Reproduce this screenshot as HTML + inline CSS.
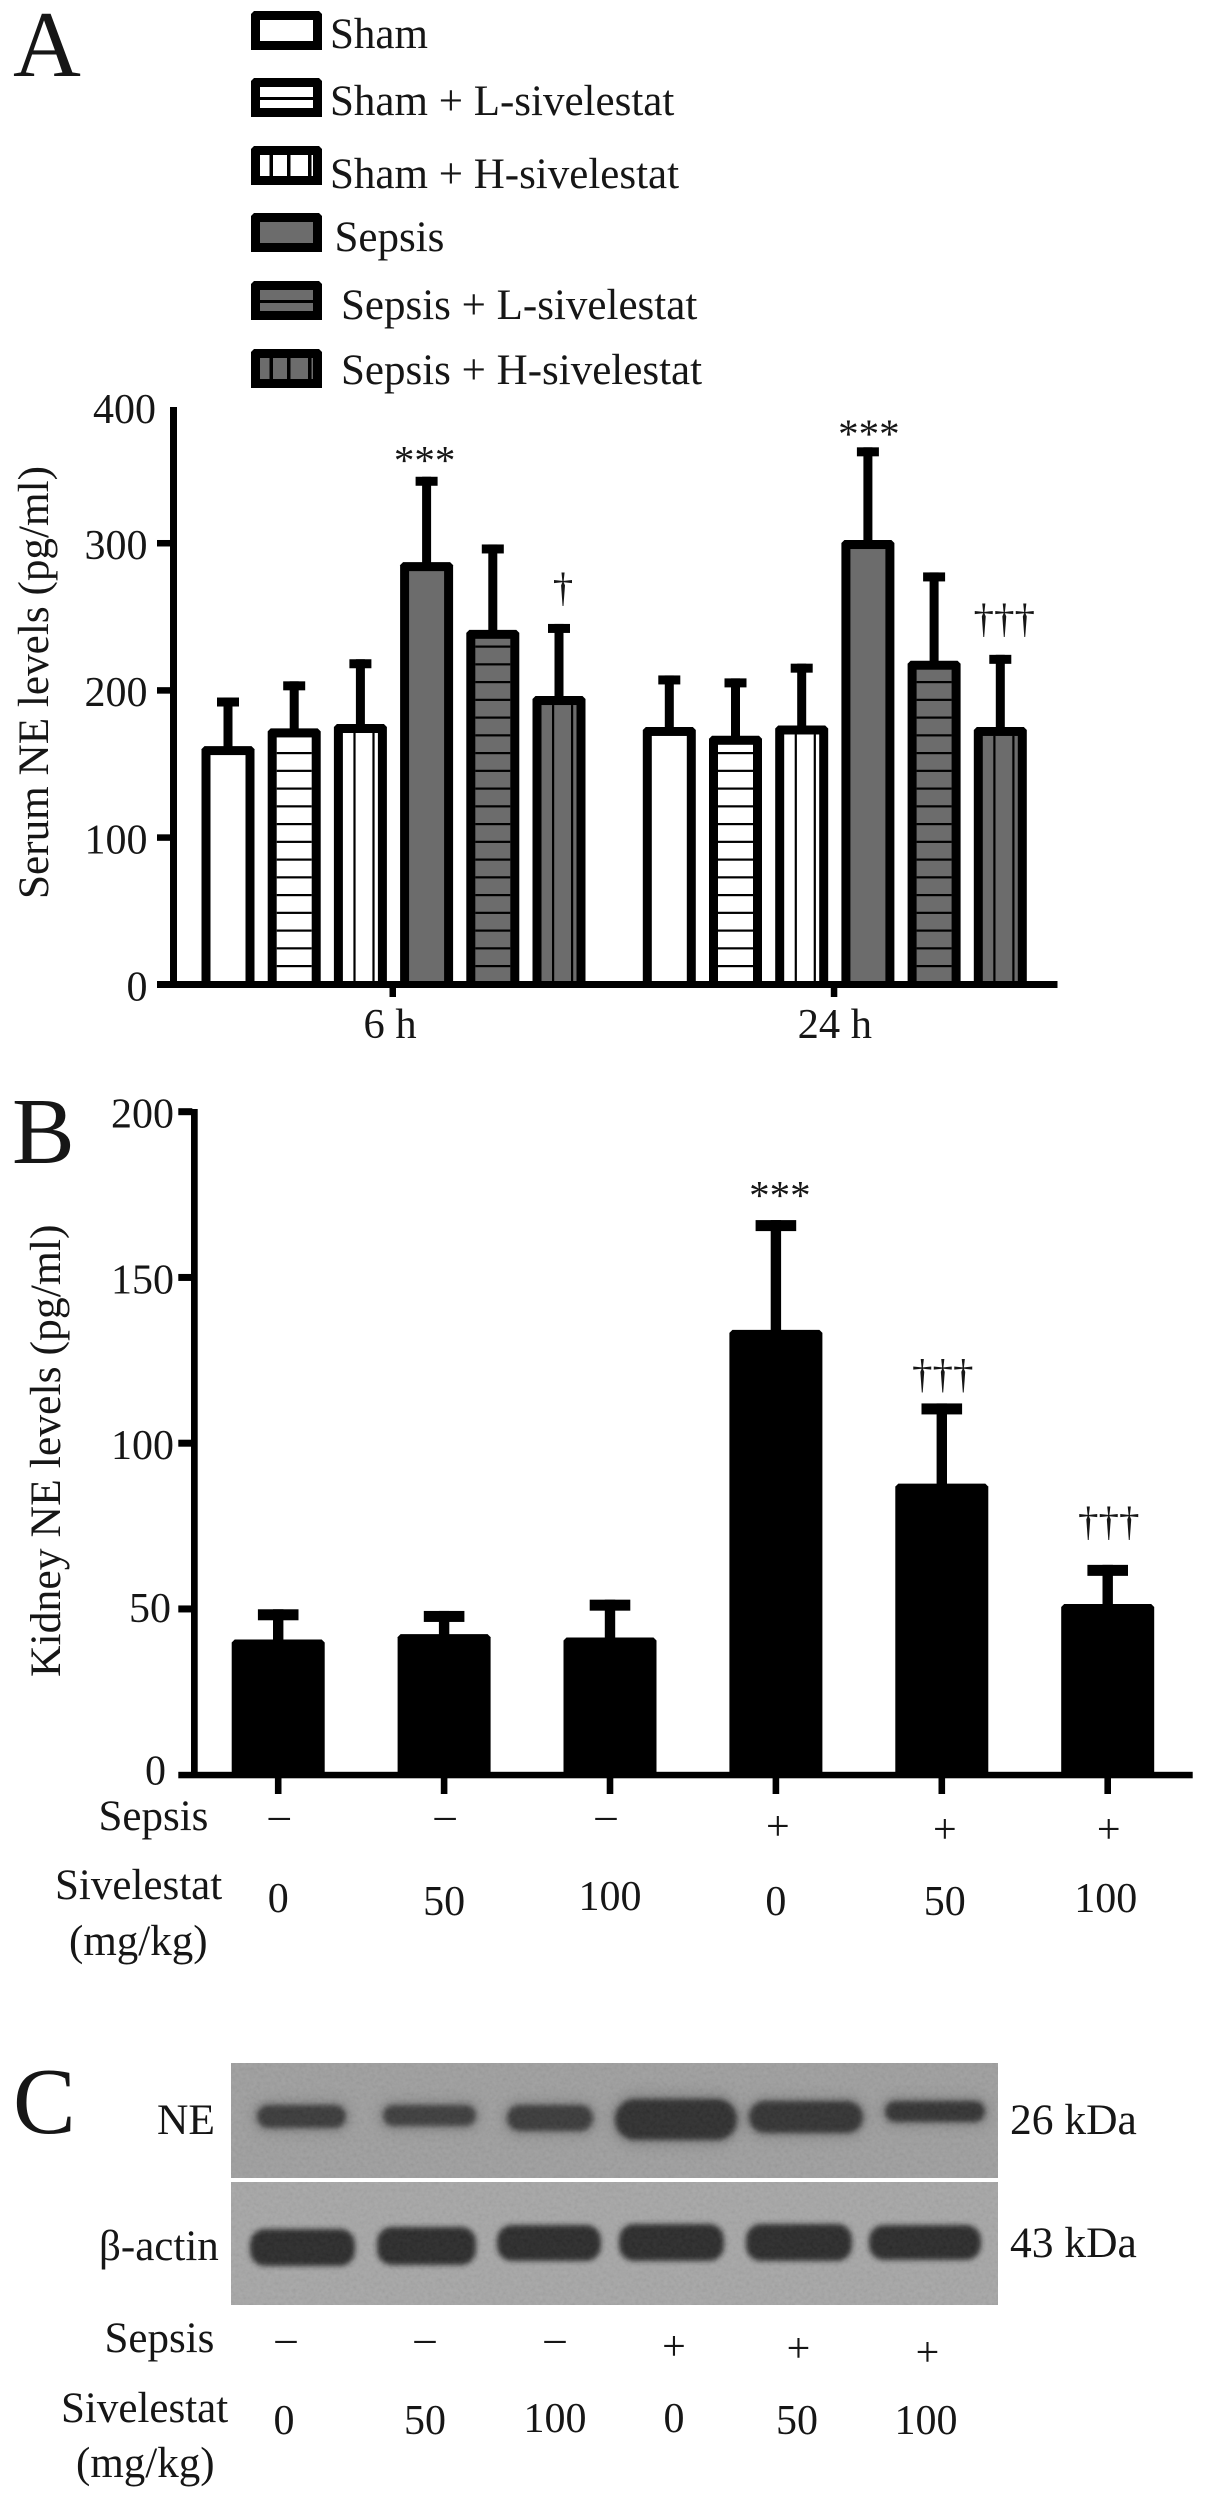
<!DOCTYPE html>
<html lang="en">
<head>
<meta charset="utf-8">
<title>Serum and kidney NE levels</title>
<style>
html,body{margin:0;padding:0;background:#fff;}
svg{display:block;}
text{font-family:"Liberation Serif",serif;fill:#161616;}
</style>
</head>
<body>
<svg id="figure" xmlns="http://www.w3.org/2000/svg" width="1205" height="2499" viewBox="0 0 1205 2499">
  <defs>
    <filter id="blur-core" x="-30%" y="-60%" width="160%" height="220%"><feGaussianBlur stdDeviation="2.6"/></filter>
    <filter id="blur-halo" x="-30%" y="-80%" width="160%" height="260%"><feGaussianBlur stdDeviation="6"/></filter>
    <filter id="grain" x="0" y="0" width="100%" height="100%">
      <feTurbulence type="fractalNoise" baseFrequency="0.28" numOctaves="2" seed="7"/>
      <feColorMatrix type="matrix" values="0.9 0 0 0 0.05  0.9 0 0 0 0.05  0.9 0 0 0 0.05  0 0 0 0 0.10"/>
    </filter>
    <clipPath id="clip-ne"><rect x="231" y="2063" width="767" height="115"/></clipPath>
    <clipPath id="clip-actin"><rect x="231" y="2182" width="767" height="123"/></clipPath>
  </defs>

  <rect width="1205" height="2499" fill="#fff"/>

  <!-- Panel letters -->
  <text x="13" y="76" font-size="94">A</text>
  <text x="12" y="1163" font-size="94">B</text>
  <text x="13" y="2133" font-size="94">C</text>

  <!-- Legend -->
  <g id="legend" font-size="43"></g>

  <!-- Panel A -->
  <g id="serum-chart"></g>
  <text transform="translate(48 899) rotate(-90)" font-size="43.2">Serum NE levels (pg/ml)</text>

  <!-- Panel B -->
  <g id="kidney-chart"></g>
  <text transform="translate(60 1677) rotate(-90)" font-size="43.7">Kidney NE levels (pg/ml)</text>
  <text x="98.5" y="1830" font-size="43">Sepsis</text>
  <text x="55" y="1899" font-size="43">Sivelestat</text>
  <text x="69" y="1955" font-size="43">(mg/kg)</text>

  <!-- Panel C: western blot -->
  <g>
    <g clip-path="url(#clip-ne)">
      <rect x="231" y="2063" width="767" height="115" fill="#9c9c9c"/>
      <g filter="url(#blur-halo)" fill="#6a6a6a" opacity=".5">
        <rect x="252" y="2100" width="99" height="33" rx="16"/>
        <rect x="378" y="2100" width="103" height="31" rx="15"/>
        <rect x="502" y="2100" width="96" height="36" rx="18"/>
        <rect x="610" y="2092" width="132" height="54" rx="27"/>
        <rect x="744" y="2096" width="124" height="42" rx="21"/>
        <rect x="880" y="2096" width="110" height="31" rx="15"/>
      </g>
      <g filter="url(#blur-core)">
        <rect x="257" y="2105" width="89" height="23" rx="11.5" fill="#333"/>
        <rect x="383" y="2105" width="93" height="21" rx="10.5" fill="#363636"/>
        <rect x="507" y="2105" width="86" height="26" rx="13" fill="#303030"/>
        <rect x="615" y="2099" width="122" height="41" rx="20" fill="#252525"/>
        <rect x="749" y="2101" width="114" height="32" rx="16" fill="#292929"/>
        <rect x="885" y="2101" width="100" height="21" rx="10.5" fill="#2a2a2a"/>
      </g>
      <rect x="231" y="2063" width="767" height="115" filter="url(#grain)"/>
    </g>
    <g clip-path="url(#clip-actin)">
      <rect x="231" y="2182" width="767" height="123" fill="#a4a4a4"/>
      <g filter="url(#blur-core)" fill="#242424">
        <rect x="250" y="2229" width="105" height="37" rx="15"/>
        <rect x="377" y="2227" width="99" height="38" rx="15"/>
        <rect x="497" y="2225" width="104" height="36" rx="15"/>
        <rect x="619" y="2224" width="105" height="37" rx="15"/>
        <rect x="746" y="2224" width="106" height="37" rx="15"/>
        <rect x="869" y="2225" width="112" height="35" rx="15"/>
      </g>
      <rect x="231" y="2182" width="767" height="123" filter="url(#grain)"/>
    </g>
  </g>
  <text x="157" y="2134" font-size="43.5">NE</text>
  <text x="99" y="2260" font-size="43">β-actin</text>
  <text x="1010" y="2134" font-size="43.5">26 kDa</text>
  <text x="1010" y="2257" font-size="43.5">43 kDa</text>
  <text x="104.5" y="2352" font-size="43">Sepsis</text>
  <text x="61" y="2422" font-size="43">Sivelestat</text>
  <text x="76" y="2477" font-size="43">(mg/kg)</text>

  <g font-size="42" text-anchor="middle">
    <text x="286" y="2352">–</text>
    <text x="425" y="2352">–</text>
    <text x="555" y="2352">–</text>
    <text x="674" y="2360">+</text>
    <text x="798.5" y="2362">+</text>
    <text x="927.5" y="2366">+</text>
    <text x="284" y="2434">0</text>
    <text x="425" y="2434">50</text>
    <text x="555" y="2432">100</text>
    <text x="674" y="2432">0</text>
    <text x="797" y="2434">50</text>
    <text x="926" y="2434">100</text>
  </g>
</svg>

<script>
// ---- Legend ----
const legendLabels = ['Sham', 'Sham + L-sivelestat', 'Sham + H-sivelestat', 'Sepsis', 'Sepsis + L-sivelestat', 'Sepsis + H-sivelestat'];

// ---- Panel A data ----
const serumGroups = ['6 h', '24 h'];
const serumTreatments = ['Sham', 'Sham + L', 'Sham + H', 'Sepsis', 'Sepsis + L', 'Sepsis + H'];
const serumMeans = [162, 174, 177, 287, 241, 196, 175, 169, 176, 302, 220, 175];
const serumSD = [33, 32, 44, 58, 58, 49, 35, 39, 42, 63, 60, 49];
const serumMarks = ['', '', '', '***', '', '†', '', '', '', '***', '', '†††'];
const serumTicks = [0, 100, 200, 300, 400];

// ---- Panel B data ----
const kidneyMeans = [40.8, 42.4, 41.4, 134.2, 87.8, 51.5];
const kidneySD = [9.1, 7, 11.4, 33.1, 24.2, 11.8];
const kidneyMarks = ['', '', '', '***', '†††', '†††'];
const kidneyTicks = [0, 50, 100, 150, 200];
const kidneySepsis = ['–', '–', '–', '+', '+', '+'];
const kidneyDoses = ['0', '50', '100', '0', '50', '100'];

const NS = 'http://www.w3.org/2000/svg';
function mk(tag, attrs, parent) {
  const node = document.createElementNS(NS, tag);
  for (const k in attrs) node.setAttribute(k, attrs[k]);
  parent.appendChild(node);
  return node;
}
function chamfered(x0, x1, top, bottom, c) {
  return [x0, bottom, x0, top + c, x0 + c, top, x1 - c, top, x1, top + c, x1, bottom].join(' ');
}

// ---- Legend drawing ----
const legend = document.getElementById('legend');
const legendRowTop = [11, 78, 146, 213, 281, 349];
const legendBaseline = [48, 115, 188, 251, 319, 384];
const legendTextX = [330, 330, 330, 334.5, 341, 341];
legendLabels.forEach(function (label, i) {
  const top = legendRowTop[i];
  const entry = mk('g', {}, legend);
  
  
  const box = mk('polygon', {points: chamfered(251, 322, top, top + 39, 3) + ' 319 ' + (top + 39) + ' 254 ' + (top + 39), fill: '#000'}, entry);
  
  
  const fill = i < 3 ? '#fff' : '#6c6c6c';
  mk('rect', {x: 260, y: top + 9, width: 53, height: 21, fill: fill}, entry);
  if (i % 3 === 1) mk('rect', {x: 260, y: top + 19, width: 53, height: 3, fill: '#000'}, entry);
  if (i % 3 === 2) {
    mk('rect', {x: 269.5, y: top + 9, width: 3.5, height: 21, fill: '#000'}, entry);
    mk('rect', {x: 287, y: top + 9, width: 3.5, height: 21, fill: '#000'}, entry);
    mk('rect', {x: 308, y: top + 9, width: 3.5, height: 21, fill: '#000'}, entry);
  }
  const t = mk('text', {x: legendTextX[i], y: legendBaseline[i]}, entry);
  
  
  t.textContent = label;
});

// ---- Panel A drawing ----
const serum = document.getElementById('serum-chart');
const serumY = function (v) { return 984.5 - v * 1.4717; };
const serumX = function (i) {
  const group = Math.floor(i / 6);
  return (group === 0 ? 228 : 669.3) + (i % 6) * 66.2;
};
const serumAxisH = mk('rect', {x: 157, y: 981, width: 900.5, height: 7, fill: '#000'}, serum);


const serumAxisV = mk('rect', {x: 170, y: 407, width: 7, height: 581, fill: '#000'}, serum);



serumTicks.forEach(function (v) {
  if (v !== 400) {
    const tick = mk('rect', {x: 157, y: serumY(v) - 3, width: 14, height: 6.5, fill: '#000'}, serum);
    
    
  }
  const lab = mk('text', {x: v === 400 ? 156 : 147.5, y: serumY(v) + (v === 400 ? 27 : 16), 'text-anchor': 'end', 'font-size': 42}, serum);
  
  
  lab.textContent = String(v);
});

serumGroups.forEach(function (g, gi) {
  const cx = (serumX(gi * 6 + 2) + serumX(gi * 6 + 3)) / 2 - 1;
  const tick = mk('rect', {x: cx - 3, y: 986, width: 6.5, height: 11, fill: '#000'}, serum);
  
  
  const lab = mk('text', {x: cx + (gi ? 1 : -2.5), y: 1038, 'text-anchor': 'middle', 'font-size': 42.5}, serum);
  
  
  lab.textContent = g;
});

const BAR_W = 53, EDGE = 9;
serumMeans.forEach(function (m, i) {
  const cx = serumX(i);
  const top = serumY(m);
  const capTop = serumY(m + serumSD[i]);
  const kind = i % 6;
  const g = mk('g', {}, serum);
  
  

  const stem = mk('rect', {x: cx - 4.5, y: capTop, width: 9, height: top - capTop + 4, fill: '#000'}, g);
  
  
  const cap = mk('rect', {x: cx - 11, y: capTop, width: 22, height: 9, fill: '#000'}, g);
  
  

  const x0 = cx - BAR_W / 2, x1 = cx + BAR_W / 2;
  const outline = mk('polygon', {points: chamfered(x0, x1, top, 984, 3), fill: '#000'}, g);
  
  
  const innerTop = top + EDGE;
  const inner = mk('rect', {x: x0 + EDGE, y: innerTop, width: BAR_W - 2 * EDGE, height: Math.max(0, 981 - innerTop), fill: kind < 3 ? '#fff' : '#6c6c6c'}, g);
  
  

  if (kind % 3 === 1) {
    for (let y = 965; y > innerTop + 4; y -= 17.75) {
      mk('rect', {x: x0 + EDGE, y: y, width: BAR_W - 2 * EDGE, height: 2.2, fill: '#000'}, g);
    }
  }
  if (kind % 3 === 2) {
    mk('rect', {x: x0 + 19.5, y: innerTop, width: 2.2, height: Math.max(0, 981 - innerTop), fill: '#000'}, g);
    mk('rect', {x: x0 + 38.5, y: innerTop, width: 2.2, height: Math.max(0, 981 - innerTop), fill: '#000'}, g);
  }

  if (serumMarks[i]) {
    const isStar = serumMarks[i].charAt(0) === '*';
    const lift = isStar ? (i === 3 ? 3 : 0) : 23;
    const shift = isStar ? (i === 3 ? -2 : 1) : 4;
    const mark = mk('text', {x: cx + shift, y: capTop - lift, 'text-anchor': 'middle', 'font-size': 41}, g);
    
    
    mark.textContent = serumMarks[i];
  }
});

// ---- Panel B drawing ----
const kidney = document.getElementById('kidney-chart');
const kidneyY = function (v) { return 1774.7 - v * 3.315; };
const kidneyX = function (i) { return 278.2 + i * 165.9; };
const kAxisH = mk('rect', {x: 178.3, y: 1771.8, width: 1014.4, height: 6.5, fill: '#000'}, kidney);


const kAxisV = mk('rect', {x: 191, y: 1109, width: 6.7, height: 669, fill: '#000'}, kidney);



kidneyTicks.forEach(function (v) {
  if (v !== 0) {
    const tick = mk('rect', {x: 178.3, y: kidneyY(v) - 3.5, width: 14, height: 7, fill: '#000'}, kidney);
    
    
  }
  const lab = mk('text', {x: v === 0 ? 166 : (v === 50 ? 171 : 174), y: kidneyY(v) + (v === 0 ? 10 : (v === 50 ? 13 : 16)), 'text-anchor': 'end', 'font-size': 42}, kidney);
  
  
  lab.textContent = String(v);
});

kidneyMeans.forEach(function (m, i) {
  const cx = kidneyX(i);
  const top = kidneyY(m);
  const capTop = kidneyY(m + kidneySD[i]);
  const g = mk('g', {}, kidney);
  
  

  const stem = mk('rect', {x: cx - 5.2, y: capTop, width: 10.4, height: top - capTop + 4, fill: '#000'}, g);
  
  
  const cap = mk('rect', {x: cx - 20.3, y: capTop, width: 40.6, height: 11, fill: '#000'}, g);
  
  
  const bar = mk('polygon', {points: chamfered(cx - 46.5, cx + 46.5, top, 1776, 3), fill: '#000'}, g);
  
  

  const tick = mk('rect', {x: cx - 3.3, y: 1776, width: 6.6, height: 18, fill: '#000'}, g);
  
  

  const plus = kidneySepsis[i] === '+';
  const sign = mk('text', {x: cx + (i === 2 ? -4 : (i === 3 ? 2 : (i === 4 ? 3 : 1))), y: plus ? (i === 3 ? 1840 : 1843) : 1829, 'text-anchor': 'middle', 'font-size': 42}, g);
  
  
  sign.textContent = kidneySepsis[i];

  const dose = mk('text', {x: cx + (i === 4 ? 3 : (i === 5 ? -2 : 0)), y: (i % 3 === 1 || i === 3) ? 1915 : (i === 2 ? 1910 : 1912), 'text-anchor': 'middle', 'font-size': 42}, g);
  
  
  dose.textContent = kidneyDoses[i];

  if (kidneyMarks[i]) {
    const lift = i === 3 ? 11 : (i === 4 ? 16 : 30);
    const mark = mk('text', {x: cx + (i === 3 ? 4 : 1), y: capTop - lift, 'text-anchor': 'middle', 'font-size': 41}, g);
    
    
    mark.textContent = kidneyMarks[i];
  }
});
</script>
</body>
</html>
